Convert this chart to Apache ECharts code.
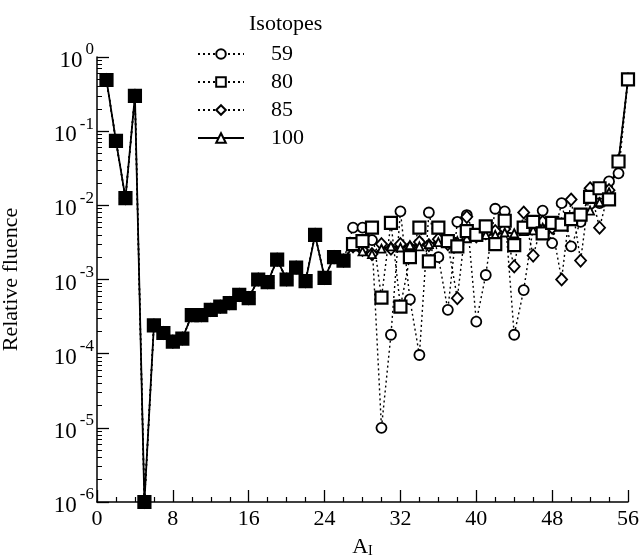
<!DOCTYPE html>
<html><head><meta charset="utf-8">
<script src="https://cdn.jsdelivr.net/npm/echarts@6/dist/echarts.min.js"></script>
<style>html,body{margin:0;padding:0;background:#fff}#c{width:640px;height:560px}</style>
</head><body><div id="c"></div>
<script>
// Mass numbers A_I
const massNumbers = [1,2,3,4,5,6,7,8,9,10,11,12,13,14,15,16,17,18,19,20,21,22,23,24,25,26,27,28,29,30,31,32,33,34,35,36,37,38,39,40,41,42,43,44,45,46,47,48,49,50,51,52,53,54,55,56];
// Light fragments A=1..26: identical for all isotopes
const sharedFluence = [0.49,0.074,0.0125,0.30,1e-6,2.4e-4,1.9e-4,1.45e-4,1.6e-4,3.3e-4,3.3e-4,3.9e-4,4.3e-4,4.8e-4,6.2e-4,5.6e-4,1.0e-3,9.2e-4,1.85e-3,1.0e-3,1.45e-3,9.5e-4,4.0e-3,1.05e-3,2.0e-3,1.8e-3];
// A=27..56 per isotope
const fluence59  = [5.0e-3,5.0e-3,3.4e-3,1.0e-5,1.8e-4,8.3e-3,5.4e-4,9.6e-5,8.0e-3,2.0e-3,3.9e-4,6.0e-3,7.4e-3,2.7e-4,1.15e-3,9.0e-3,8.3e-3,1.8e-4,7.2e-4,5.0e-3,8.5e-3,3.1e-3,1.07e-2,2.8e-3,6.0e-3,1.5e-2,1.07e-2,2.1e-2,2.7e-2,0.5];
const fluence80  = [3.0e-3,3.3e-3,5.0e-3,5.7e-4,5.8e-3,4.3e-4,2.0e-3,5.0e-3,1.75e-3,5.0e-3,3.3e-3,2.8e-3,4.5e-3,4.0e-3,5.2e-3,3.0e-3,6.2e-3,2.9e-3,5.0e-3,6.0e-3,4.2e-3,5.8e-3,5.5e-3,6.5e-3,7.5e-3,1.3e-2,1.7e-2,1.2e-2,3.9e-2,0.5];
const fluence85  = [2.8e-3,2.5e-3,2.2e-3,3.0e-3,2.6e-3,3.0e-3,2.7e-3,3.2e-3,2.9e-3,3.5e-3,3.0e-3,5.6e-4,7.0e-3,3.8e-3,4.2e-3,4.5e-3,4.8e-3,1.5e-3,8.0e-3,2.1e-3,6.0e-3,5.0e-3,1.0e-3,1.2e-2,1.8e-3,1.7e-2,5.0e-3,1.6e-2,4.0e-2,0.5];
const fluence100 = [2.8e-3,2.4e-3,2.2e-3,2.6e-3,2.8e-3,2.7e-3,2.9e-3,2.8e-3,3.0e-3,3.2e-3,3.4e-3,3.3e-3,3.6e-3,3.9e-3,4.0e-3,4.0e-3,4.3e-3,4.2e-3,4.5e-3,4.6e-3,5.0e-3,5.4e-3,5.8e-3,6.4e-3,7.2e-3,8.5e-3,1.1e-2,1.5e-2,3.9e-2,0.5];
const isotopeNames = ['59','80','85','100'];
const minorMultipliers = [2,3,4,5,6,7,8,9];
const decadeExponents = [-6,-5,-4,-3,-2,-1];

const FONT = 'Liberation Serif';
const chart = echarts.init(document.getElementById('c'), null, {renderer:'canvas'});

function buildData(tail, fillShared) {
  return massNumbers.map((a, i) => {
    const v = i < sharedFluence.length ? sharedFluence[i] : tail[i - sharedFluence.length];
    if (fillShared && i < sharedFluence.length) return {value:[a, v], itemStyle:{color:'#000'}};
    return [a, v];
  });
}
const minorTickValues = [];
decadeExponents.forEach(n => minorMultipliers.forEach(m => minorTickValues.push(n + Math.log10(m))));

const hollow = {color:'#fff', borderColor:'#000', borderWidth:1.8};
const dotted = {color:'#000', width:1.4, type:[2,3]};

const series = [
  {name:'59', type:'line', symbol:'circle', symbolSize:10, itemStyle:hollow, lineStyle:dotted, data:buildData(fluence59,false)},
  {name:'85', type:'line', symbol:'diamond', symbolSize:[11,12], itemStyle:hollow, lineStyle:dotted, data:buildData(fluence85,false)},
  {name:'100', type:'line', symbol:'triangle', symbolSize:8, itemStyle:hollow, lineStyle:{color:'#000', width:1.8}, data:buildData(fluence100,false)},
  {name:'80', type:'line', symbol:'rect', symbolSize:12, itemStyle:{color:'#fff', borderColor:'#000', borderWidth:2.2}, lineStyle:dotted, data:buildData(fluence80,true)}
];

chart.setOption({
  animation:false,
  backgroundColor:'#fff',
  title:{text:'Isotopes', left:244, top:8, textStyle:{fontFamily:FONT, fontSize:22, fontWeight:'normal', color:'#000'}},
  legend:{data:isotopeNames, orient:'vertical', left:192, top:38, itemWidth:46, itemHeight:12, itemGap:6,
    textStyle:{fontFamily:FONT, fontSize:22, color:'#000', padding:[0,0,0,22]}},
  grid:{left:97, right:12, top:57, bottom:58, containLabel:false, outerBoundsMode:'none'},
  xAxis:{type:'value', min:0, max:56, interval:8, position:'bottom',
    name:'{a|A}{s|I}', nameLocation:'middle', nameGap:34,
    nameTextStyle:{rich:{a:{fontFamily:FONT, fontSize:22, color:'#000', verticalAlign:'top'}, s:{fontFamily:FONT, fontSize:14, color:'#000', verticalAlign:'bottom', padding:[8,0,0,0]}}},
    axisLine:{show:true, onZero:false, lineStyle:{color:'#000', width:1.5}},
    axisTick:{show:true, inside:true, length:12, lineStyle:{color:'#000', width:1.3}},
    minorTick:{show:true, splitNumber:4, length:5, lineStyle:{color:'#000', width:1.2}},
    axisLabel:{fontFamily:FONT, fontSize:22, color:'#000', margin:6},
    splitLine:{show:false}},
  yAxis:[
    {type:'log', min:1e-6, max:1, interval:1,
      name:'Relative fluence', nameLocation:'middle', nameGap:75,
      nameTextStyle:{fontFamily:FONT, fontSize:22, color:'#000'},
      axisLine:{show:true, onZero:false, lineStyle:{color:'#000', width:1.5}},
      axisTick:{show:true, inside:true, length:12, lineStyle:{color:'#000', width:1.3}},
      axisLabel:{margin:3, formatter:function(v){ const e = Math.round(Math.log10(v)); return '{b|10}{s|' + (e===0?'0':e) + '}'; },
        rich:{b:{fontFamily:FONT, fontSize:23, color:'#000', verticalAlign:'bottom', padding:[8,0,0,0]}, s:{fontFamily:FONT, fontSize:17, color:'#000', verticalAlign:'top', padding:[0,0,4,3]}}},
      splitLine:{show:false}},
    {type:'value', min:-6, max:0, position:'left',
      axisLine:{show:false, onZero:false}, axisLabel:{show:false}, splitLine:{show:false},
      axisTick:{show:true, inside:true, length:5, customValues:minorTickValues, lineStyle:{color:'#000', width:1}}}
  ],
  series:series
});
</script></body></html>
